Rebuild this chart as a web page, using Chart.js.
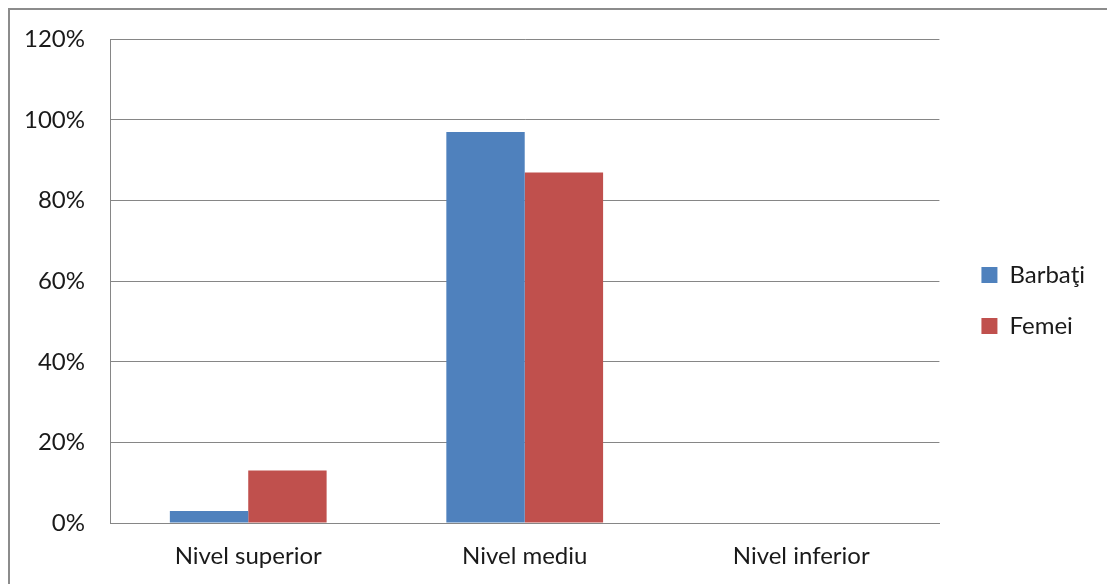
<!DOCTYPE html>
<html>
<head>
<meta charset="utf-8">
<script src="https://cdn.jsdelivr.net/npm/chart.js@4/dist/chart.umd.min.js"></script>
<style>
  html, body { margin: 0; padding: 0; background: #fff; overflow: hidden; }
  #frame {
    position: absolute; left: 8px; top: 8px; width: 1200px; height: 700px;
    border: 2px solid #8c8c8c; box-sizing: border-box;
  }
  #wrap { position: absolute; left: 0; top: 0; width: 1107px; height: 584px; }
</style>
</head>
<body>
<div id="frame"></div>
<div id="wrap"><canvas id="chart" width="1107" height="584"></canvas></div>
<script>
const categories = ['Nivel superior', 'Nivel mediu', 'Nivel inferior'];
const barbati = [3, 97, 0];
const femei = [13, 87, 0];
const yTicks = [0, 20, 40, 60, 80, 100, 120];

const gridColor = '#868686';
const textColor = '#1a1a1a';
const fontFamily = 'Lato, "Open Sans", sans-serif';

// nudge the legend a bit right and up, like the original
const legendShift = {
  id: 'legendShift',
  afterLayout(chart) {
    const legend = chart.legend;
    if (!legend) return;
    legend.left += 15;
    legend.right += 15;
    legend.top -= 7;
    legend.bottom -= 7;
  }
};

new Chart(document.getElementById('chart'), {
  type: 'bar',
  data: {
    labels: categories,
    datasets: [
      { label: 'Barbaţi', data: barbati, backgroundColor: '#4F81BD' },
      { label: 'Femei', data: femei, backgroundColor: '#C0504D' }
    ]
  },
  options: {
    responsive: false,
    animation: false,
    layout: { padding: { top: 31, right: 27, left: 0, bottom: 0 } },
    datasets: { bar: { barPercentage: 1, categoryPercentage: 0.567 } },
    plugins: {
      legend: {
        position: 'right',
        labels: {
          boxWidth: 16, boxHeight: 16, padding: 27,
          color: textColor,
          font: { family: fontFamily, size: 24 }
        }
      },
      tooltip: { enabled: false }
    },
    scales: {
      x: {
        grid: { display: false, drawTicks: false },
        border: { display: true, color: gridColor },
        ticks: { color: textColor, padding: 19, font: { family: fontFamily, size: 24 } },
        afterFit(scale) { scale.height = 61; }
      },
      y: {
        min: 0, max: 120,
        afterBuildTicks(scale) { scale.ticks = yTicks.map((v) => ({ value: v })); },
        grid: { color: gridColor, drawTicks: false },
        border: { display: true, color: gridColor },
        ticks: {
          color: textColor, padding: 25,
          font: { family: fontFamily, size: 24 },
          callback(value) { return value + '%'; }
        },
        afterFit(scale) { scale.width = 110; }
      }
    }
  },
  plugins: [legendShift]
});
</script>
</body>
</html>
